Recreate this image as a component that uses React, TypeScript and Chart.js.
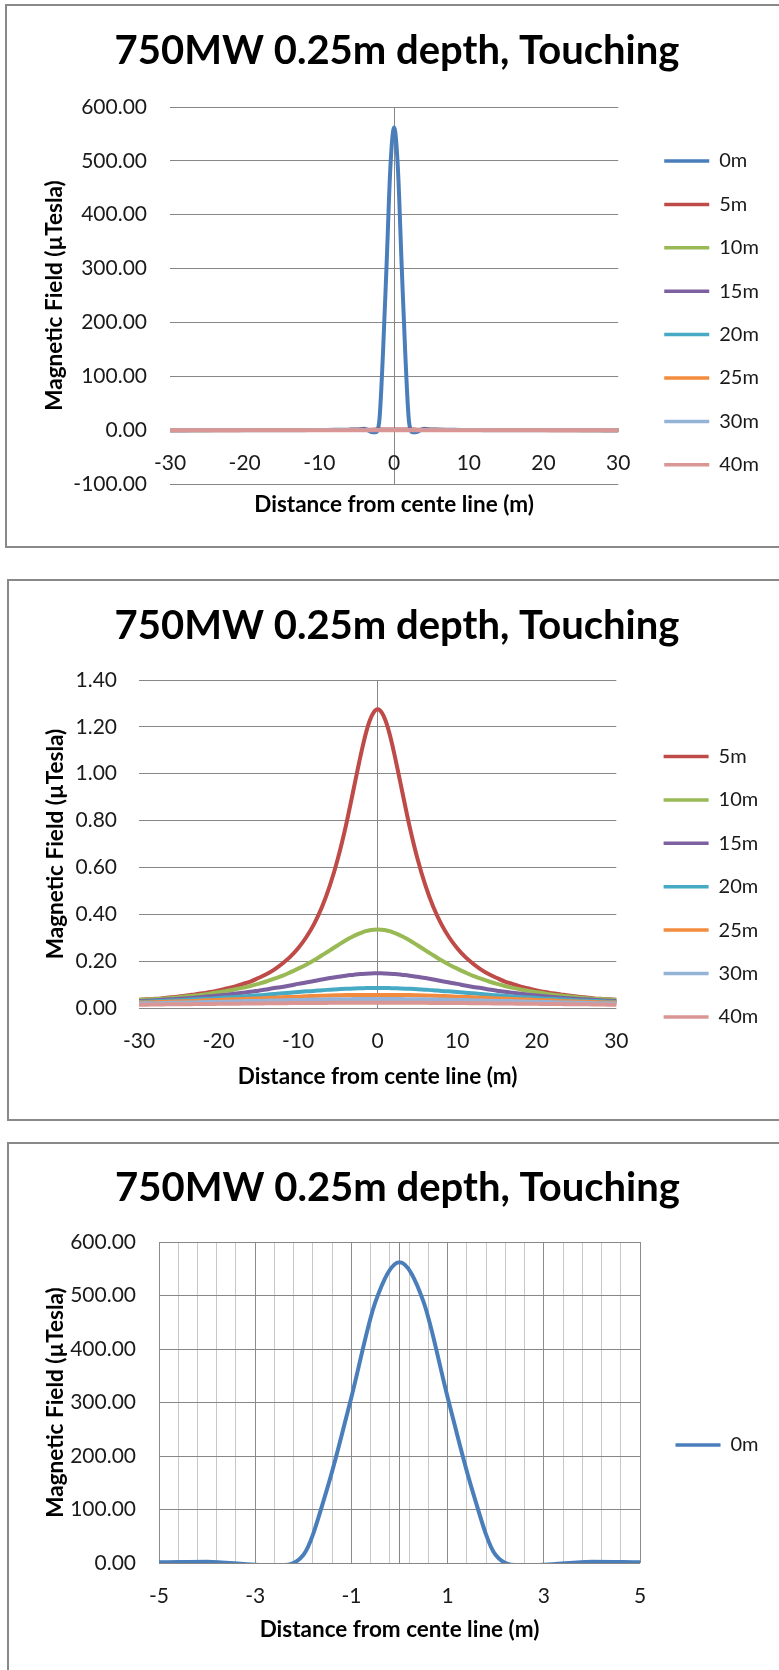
import React, { useEffect, useRef } from "react";
import { Chart, registerables } from "chart.js";

Chart.register(...registerables);

const FAMILY = "Lato, 'Open Sans', 'DejaVu Sans', sans-serif";

const chartTitle = "750MW 0.25m depth, Touching";
const xAxisTitle = "Distance from cente line (m)";
const yAxisTitle = "Magnetic Field (µTesla)";

// distance from centre line (m): 1 m steps, 0.5 m steps near the centre
const distance = [
  -30, -29, -28, -27, -26, -25, -24, -23, -22, -21,
  -20, -19, -18, -17, -16, -15, -14, -13, -12, -11,
  -10, -9, -8, -7, -6, -5, -4, -3,
  -2.5, -2, -1.5, -1, -0.5, 0, 0.5, 1, 1.5, 2, 2.5,
  3, 4, 5, 6, 7, 8, 9, 10,
  11, 12, 13, 14, 15, 16, 17, 18, 19, 20,
  21, 22, 23, 24, 25, 26, 27, 28, 29, 30,
];

const seriesNames = ["0m", "5m", "10m", "15m", "20m", "25m", "30m", "40m"];
const seriesColors = ["#4A7EBB", "#BE4B48", "#98B954", "#7D60A0", "#46AAC5", "#F38B3E", "#95B3D7", "#D99694"];

const field0m = [
  0.036, 0.038, 0.041, 0.044, 0.047, 0.051, 0.055, 0.06, 0.066, 0.072,
  0.08, 0.088, 0.098, 0.11, 0.125, 0.14, 0.16, 0.19, 0.22, 0.26,
  0.32, 0.39, 0.5, 0.65, 0.9, 1.3, 2.4, -3.5,
  -4, 15, 140, 310, 488, 562, 488, 310, 140, 15, -4,
  -3.5, 2.4, 1.3, 0.9, 0.65, 0.5, 0.39, 0.32,
  0.26, 0.22, 0.19, 0.16, 0.14, 0.125, 0.11, 0.098, 0.088, 0.08,
  0.072, 0.066, 0.06, 0.055, 0.051, 0.047, 0.044, 0.041, 0.038, 0.036,
];
const field5m = [
  0.035, 0.037, 0.039, 0.042, 0.046, 0.049, 0.053, 0.058, 0.063, 0.068,
  0.075, 0.083, 0.091, 0.102, 0.113, 0.128, 0.144, 0.164, 0.189, 0.218,
  0.255, 0.301, 0.358, 0.431, 0.523, 0.638, 0.777, 0.938,
  1.02, 1.099, 1.17, 1.226, 1.262, 1.275, 1.262, 1.226, 1.17, 1.099, 1.02,
  0.938, 0.777, 0.638, 0.523, 0.431, 0.358, 0.301, 0.255,
  0.218, 0.189, 0.164, 0.144, 0.128, 0.113, 0.102, 0.091, 0.083, 0.075,
  0.068, 0.063, 0.058, 0.053, 0.049, 0.046, 0.042, 0.039, 0.037, 0.035,
];
const field10m = [
  0.034, 0.036, 0.038, 0.04, 0.043, 0.046, 0.05, 0.053, 0.057, 0.062,
  0.067, 0.073, 0.079, 0.086, 0.094, 0.103, 0.113, 0.125, 0.137, 0.152,
  0.168, 0.185, 0.204, 0.225, 0.246, 0.268, 0.289, 0.307,
  0.315, 0.322, 0.328, 0.332, 0.334, 0.335, 0.334, 0.332, 0.328, 0.322, 0.315,
  0.307, 0.289, 0.268, 0.246, 0.225, 0.204, 0.185, 0.168,
  0.152, 0.137, 0.125, 0.113, 0.103, 0.094, 0.086, 0.079, 0.073, 0.067,
  0.062, 0.057, 0.053, 0.05, 0.046, 0.043, 0.04, 0.038, 0.036, 0.034,
];
const field15m = [
  0.03, 0.031, 0.033, 0.035, 0.037, 0.039, 0.042, 0.044, 0.047, 0.05,
  0.053, 0.057, 0.061, 0.065, 0.069, 0.074, 0.079, 0.085, 0.09, 0.096,
  0.103, 0.109, 0.115, 0.122, 0.128, 0.133, 0.138, 0.142,
  0.144, 0.145, 0.146, 0.147, 0.148, 0.148, 0.148, 0.147, 0.146, 0.145, 0.144,
  0.142, 0.138, 0.133, 0.128, 0.122, 0.115, 0.109, 0.103,
  0.096, 0.09, 0.085, 0.079, 0.074, 0.069, 0.065, 0.061, 0.057, 0.053,
  0.05, 0.047, 0.044, 0.042, 0.039, 0.037, 0.035, 0.033, 0.031, 0.03,
];
const field20m = [
  0.026, 0.027, 0.029, 0.03, 0.032, 0.033, 0.035, 0.037, 0.039, 0.04,
  0.043, 0.045, 0.047, 0.049, 0.052, 0.054, 0.057, 0.06, 0.063, 0.065,
  0.068, 0.071, 0.073, 0.076, 0.078, 0.08, 0.082, 0.083,
  0.084, 0.084, 0.085, 0.085, 0.085, 0.085, 0.085, 0.085, 0.085, 0.084, 0.084,
  0.083, 0.082, 0.08, 0.078, 0.076, 0.073, 0.071, 0.068,
  0.065, 0.063, 0.06, 0.057, 0.054, 0.052, 0.049, 0.047, 0.045, 0.043,
  0.04, 0.039, 0.037, 0.035, 0.033, 0.032, 0.03, 0.029, 0.027, 0.026,
];
const field25m = [
  0.023, 0.024, 0.025, 0.026, 0.027, 0.028, 0.029, 0.03, 0.032, 0.033,
  0.034, 0.036, 0.037, 0.038, 0.04, 0.041, 0.043, 0.044, 0.046, 0.047,
  0.048, 0.05, 0.051, 0.052, 0.053, 0.054, 0.055, 0.055,
  0.056, 0.056, 0.056, 0.056, 0.056, 0.056, 0.056, 0.056, 0.056, 0.056, 0.056,
  0.055, 0.055, 0.054, 0.053, 0.052, 0.051, 0.05, 0.048,
  0.047, 0.046, 0.044, 0.043, 0.041, 0.04, 0.038, 0.037, 0.036, 0.034,
  0.033, 0.032, 0.03, 0.029, 0.028, 0.027, 0.026, 0.025, 0.024, 0.023,
];
const field30m = [
  0.019, 0.02, 0.02, 0.021, 0.022, 0.022, 0.023, 0.024, 0.025, 0.026,
  0.026, 0.027, 0.028, 0.029, 0.03, 0.03, 0.031, 0.032, 0.033, 0.034,
  0.034, 0.035, 0.036, 0.036, 0.037, 0.037, 0.037, 0.038,
  0.038, 0.038, 0.038, 0.038, 0.038, 0.038, 0.038, 0.038, 0.038, 0.038, 0.038,
  0.038, 0.037, 0.037, 0.037, 0.036, 0.036, 0.035, 0.034,
  0.034, 0.033, 0.032, 0.031, 0.03, 0.03, 0.029, 0.028, 0.027, 0.026,
  0.026, 0.025, 0.024, 0.023, 0.022, 0.022, 0.021, 0.02, 0.02, 0.019,
];
const field40m = [
  0.014, 0.014, 0.015, 0.015, 0.016, 0.016, 0.016, 0.017, 0.017, 0.017,
  0.018, 0.018, 0.018, 0.019, 0.019, 0.019, 0.02, 0.02, 0.02, 0.021,
  0.021, 0.021, 0.021, 0.021, 0.022, 0.022, 0.022, 0.022,
  0.022, 0.022, 0.022, 0.022, 0.022, 0.022, 0.022, 0.022, 0.022, 0.022, 0.022,
  0.022, 0.022, 0.022, 0.022, 0.021, 0.021, 0.021, 0.021,
  0.021, 0.02, 0.02, 0.02, 0.019, 0.019, 0.019, 0.018, 0.018, 0.018,
  0.017, 0.017, 0.017, 0.016, 0.016, 0.016, 0.015, 0.015, 0.014, 0.014,
];

const seriesValues = [field0m, field5m, field10m, field15m, field20m, field25m, field30m, field40m];

const wideTicks = [-30, -20, -10, 0, 10, 20, 30];
const narrowTicks = [-5, -3, -1, 1, 3, 5];

type Spec = any;

const panels: Spec[] = [
  {
    box: { left: 5, top: 4, width: 800, height: 544 },
    W: 772, H: 540,
    area: { left: 163, right: 611, top: 101, bottom: 478 },
    titleY: 45, titleCX: 390, yTitleX: 47.5, tickGap: 23, xTitleY: 499,
    legendY: 155, legendX: 657, boxW: 45,
    series: [0, 1, 2, 3, 4, 5, 6, 7],
    xMin: -30, xMax: 30, xTicks: wideTicks,
    yMin: -100, yMax: 600, yStep: 100, minorGrid: false,
  },
  {
    box: { left: 7, top: 579, width: 800, height: 542 },
    W: 770, H: 538,
    area: { left: 130, right: 607, top: 99, bottom: 427 },
    titleY: 45, titleCX: 388, yTitleX: 46.5, tickGap: 22, xTitleY: 496,
    legendY: 175.5, legendX: 654.3, boxW: 45,
    series: [1, 2, 3, 4, 5, 6, 7],
    xMin: -30, xMax: 30, xTicks: wideTicks,
    yMin: 0, yMax: 1.4, yStep: 0.2, minorGrid: false,
  },
  {
    box: { left: 7, top: 1142, width: 800, height: 600 },
    W: 770, H: 526,
    area: { left: 150, right: 631, top: 98, bottom: 419 },
    titleY: 44, titleCX: 388.5, yTitleX: 46.5, tickGap: 23, xTitleY: 486,
    legendY: 301, legendX: 666.5, boxW: 45,
    series: [0],
    xMin: -5, xMax: 5, xTicks: narrowTicks,
    yMin: 0, yMax: 600, yStep: 100, minorGrid: true,
  },
];

function makeChart(canvas: HTMLCanvasElement, spec: Spec) {
  const TICK_FS = 21;
  const AXT_FS = 22.5;
  const TITLE_FS = 40;
  const LEG_FS = 20;
  const ROW = 43.4;
  const P = ROW - LEG_FS;
  const titleLH = TITLE_FS * 1.2;
  const axLH = AXT_FS * 1.2;
  const tickLH = TICK_FS * 1.2;
  const gapW = spec.legendX - P - spec.area.right;
  const legendW = P + spec.boxW + LEG_FS / 2 + 40 + 10;
  const padRight = spec.W - (spec.legendX - P) - legendW;
  const legendTitleH = spec.legendY - LEG_FS / 2 - P;
  const titleTop = spec.titleY - titleLH / 2;
  const titleBottom = spec.area.top - titleLH - titleTop;
  const majorSet = new Set(spec.xTicks);

  const gridColX = (c: any) => {
    const v = c.tick ? c.tick.value : NaN;
    if (Math.abs(v) < 1e-9) return "#878787";
    if (!spec.minorGrid) return "rgba(0,0,0,0)";
    return majorSet.has(v) ? "#8c8c8c" : "#c8c8c8";
  };

  const datasets = spec.series.map((si: number, k: number) => ({
    label: seriesNames[si],
    data: distance.map((x, i) => ({ x, y: seriesValues[si][i] })),
    borderColor: seriesColors[si],
    backgroundColor: seriesColors[si],
    borderWidth: 4,
    pointRadius: 0,
    pointHoverRadius: 0,
    cubicInterpolationMode: "monotone",
    fill: false,
    borderCapStyle: "round",
    borderJoinStyle: "round",
    xAxisID: "x",
    yAxisID: "y",
    order: -k,
  }));

  const cfg: any = {
    type: "line",
    data: { datasets },
    options: {
      responsive: false,
      animation: false,
      devicePixelRatio: 1,
      events: [],
      layout: { padding: { top: 0, left: 0, bottom: 0, right: padRight } },
      plugins: {
        tooltip: { enabled: false },
        title: {
          display: true,
          text: chartTitle,
          color: "#000",
          font: { family: FAMILY, size: TITLE_FS, weight: "bold", lineHeight: 1.2 },
          padding: { top: titleTop, bottom: titleBottom },
        },
        legend: {
          display: true,
          position: "right",
          align: "start",
          fullSize: true,
          title: {
            display: true,
            text: " ",
            font: { family: FAMILY, size: 10, lineHeight: 1 },
            padding: { top: legendTitleH - 10, bottom: 0 },
          },
          labels: {
            boxWidth: spec.boxW,
            boxHeight: 3.5,
            padding: P,
            color: "#1a1a1a",
            font: { family: FAMILY, size: LEG_FS },
            generateLabels: (chart: any) =>
              (Chart.defaults.plugins.legend.labels as any)
                .generateLabels(chart)
                .map((l: any) => ({ ...l, fillStyle: l.strokeStyle, lineWidth: 0 })),
            sort: (a: any, b: any) => a.datasetIndex - b.datasetIndex,
          },
        },
      },
      scales: {
        x: {
          type: "linear",
          position: "bottom",
          min: spec.xMin,
          max: spec.xMax,
          afterBuildTicks: (s: any) => {
            if (spec.minorGrid) {
              const t: any[] = [];
              for (let k = 0; k <= 25; k++) t.push({ value: Math.round((spec.xMin + 0.4 * k) * 100) / 100 });
              t.push({ value: 0 });
              s.ticks = t;
            } else {
              s.ticks = spec.xTicks.map((v: number) => ({ value: v }));
            }
          },
          ticks: { display: false },
          grid: { color: gridColX, drawTicks: false, lineWidth: 1 },
          border: { display: false },
          title: {
            display: true,
            text: xAxisTitle,
            color: "#000",
            font: { family: FAMILY, size: AXT_FS, weight: "bold", lineHeight: 1.2 },
            padding: { top: 0, bottom: spec.H - spec.xTitleY - axLH / 2 },
          },
          afterFit: (s: any) => {
            s.height = spec.H - spec.area.bottom;
          },
        },
        xTick: {
          type: "linear",
          axis: "x",
          position: { y: 0 },
          min: spec.xMin,
          max: spec.xMax,
          afterBuildTicks: (s: any) => {
            s.ticks = spec.xTicks.map((v: number) => ({ value: v }));
          },
          ticks: {
            padding: 33.5 - tickLH / 2,
            color: "#1a1a1a",
            font: { family: FAMILY, size: TICK_FS },
            autoSkip: false,
            maxRotation: 0,
            minRotation: 0,
            callback: (v: any) => String(v),
          },
          grid: { display: false, drawTicks: false },
          border: { display: false },
        },
        y: {
          type: "linear",
          position: "left",
          min: spec.yMin,
          max: spec.yMax,
          ticks: {
            stepSize: spec.yStep,
            padding: spec.tickGap,
            color: "#1a1a1a",
            font: { family: FAMILY, size: TICK_FS },
            callback: (v: any) => Number(v).toFixed(2),
          },
          grid: { color: "#878787", drawTicks: false, lineWidth: 1 },
          border: { display: false },
          title: {
            display: true,
            text: yAxisTitle,
            color: "#000",
            font: { family: FAMILY, size: AXT_FS, weight: "bold", lineHeight: 1.2 },
            padding: { top: spec.yTitleX - axLH / 2, bottom: 0 },
          },
          afterFit: (s: any) => {
            s.width = spec.area.left;
          },
        },
        gap: {
          type: "linear",
          axis: "y",
          position: "right",
          display: true,
          ticks: { display: false },
          grid: { display: false, drawTicks: false },
          border: { display: false },
          afterFit: (s: any) => {
            s.width = gapW;
          },
        },
      },
    },
    plugins: [
      {
        id: "titleCenter",
        afterLayout(chart: any) {
          const t = chart.titleBlock;
          if (t) {
            t.left = spec.titleCX - 380;
            t.right = spec.titleCX + 380;
            t.width = 760;
          }
        },
      },
    ],
  };

  const chart = new Chart(canvas, cfg);
  const diff = chart.chartArea.right - spec.area.right;
  if (Math.abs(diff) > 0.05) {
    cfg.options.layout.padding.right = padRight + diff;
    chart.update();
  }
  return chart;
}

function Panel({ spec }: { spec: Spec }) {
  const ref = useRef<HTMLCanvasElement | null>(null);
  useEffect(() => {
    const canvas = ref.current;
    if (!canvas) return;
    const chart = makeChart(canvas, spec);
    return () => chart.destroy();
  }, [spec]);
  const b = spec.box;
  return (
    <div
      style={{
        position: "absolute",
        left: b.left,
        top: b.top,
        width: b.width,
        height: b.height,
        border: "2px solid #898989",
        boxSizing: "border-box",
        background: "#fff",
      }}
    >
      <canvas
        ref={ref}
        width={spec.W}
        height={spec.H}
        style={{ position: "absolute", left: 0, top: 0, width: spec.W, height: spec.H }}
      />
    </div>
  );
}

export default function App() {
  return (
    <div
      style={{
        position: "absolute",
        left: 0,
        top: 0,
        width: 779,
        height: 1670,
        overflow: "hidden",
        background: "#fff",
      }}
    >
      {panels.map((p, i) => (
        <Panel key={i} spec={p} />
      ))}
    </div>
  );
}
